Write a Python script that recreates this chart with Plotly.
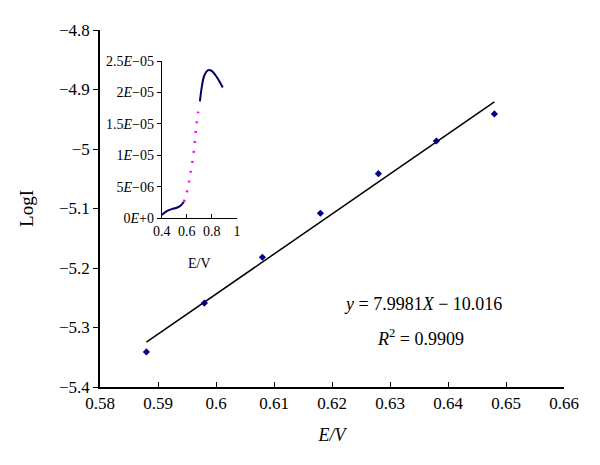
import numpy as np
import plotly.graph_objects as go

# Main data
E_main = [0.588, 0.598, 0.608, 0.618, 0.628, 0.638, 0.648]
logI = [-5.341, -5.259, -5.182, -5.108, -5.0415, -4.9866, -4.941]

# Inset data
E_low = [0.40, 0.44, 0.48, 0.52, 0.555, 0.576]
I_low = [0.5e-6, 1.1e-6, 1.44e-6, 1.65e-6, 2.07e-6, 2.6e-6]
E_mid = [0.576, 0.589, 0.603, 0.616, 0.629, 0.643, 0.656, 0.667, 0.677, 0.691]
I_mid = [2.6e-6, 3.24e-6, 4.31e-6, 5.53e-6, 7.13e-6, 8.72e-6, 10.57e-6, 12.81e-6, 14.94e-6, 16.95e-6]
E_high = [0.705, 0.72, 0.74, 0.767, 0.793, 0.82, 0.86, 0.887]
I_high = [18.6e-6, 20.9e-6, 22.7e-6, 23.5e-6, 23.5e-6, 23.0e-6, 21.8e-6, 20.8e-6]

main_xticks = [0.58, 0.59, 0.60, 0.61, 0.62, 0.63, 0.64, 0.65, 0.66]
main_xlabels = ["0.58", "0.59", "0.6", "0.61", "0.62", "0.63", "0.64", "0.65", "0.66"]
main_yticks = [-5.4, -5.3, -5.2, -5.1, -5.0, -4.9, -4.8]
main_ylabels = ["\u22125.4", "\u22125.3", "\u22125.2", "\u22125.1", "\u22125", "\u22124.9", "\u22124.8"]
inset_xticks = [0.4, 0.6, 0.8, 1.0]
inset_xlabels = ["0.4", "0.6", "0.8", "1"]
inset_yticks = [0, 5e-6, 1e-5, 1.5e-5, 2e-5, 2.5e-5]
inset_ylabels = ["0<i>E</i>+0", "5<i>E</i>\u221206", "1<i>E</i>\u221205",
                 "1.5<i>E</i>\u221205", "2<i>E</i>\u221205", "2.5<i>E</i>\u221205"]

FONT = "Liberation Serif"

slope, intercept = np.polyfit(E_main, logI, 1)
fit_x = [E_main[0], E_main[-1]]
fit_y = [slope * x + intercept for x in fit_x]

fig = go.Figure()
fig.add_trace(go.Scatter(x=fit_x, y=fit_y, mode="lines",
                         line=dict(color="black", width=1.5), showlegend=False))
fig.add_trace(go.Scatter(x=E_main, y=logI, mode="markers",
                         marker=dict(symbol="diamond", size=5.5, color="#000080"),
                         showlegend=False))

fig.add_trace(go.Scatter(x=E_low, y=I_low, mode="lines", xaxis="x2", yaxis="y2",
                         line=dict(color="#000066", width=2, shape="spline"), showlegend=False))
fig.add_trace(go.Scatter(x=E_mid, y=I_mid, mode="lines", xaxis="x2", yaxis="y2",
                         line=dict(color="#FF00FF", width=2.5, dash="2px,8px", shape="spline"),
                         showlegend=False))
fig.add_trace(go.Scatter(x=E_high, y=I_high, mode="lines", xaxis="x2", yaxis="y2",
                         line=dict(color="#000066", width=2, shape="spline"), showlegend=False))

fig.update_layout(
    width=600, height=465,
    margin=dict(l=92, r=44, t=22, b=86),
    paper_bgcolor="white", plot_bgcolor="white",
    font=dict(family=FONT, color="black", size=17),
    xaxis=dict(range=[0.58, 0.66], tickvals=main_xticks, ticktext=main_xlabels,
               showgrid=False, zeroline=False, showline=True, linecolor="black", linewidth=1.5,
               ticks="inside", ticklen=5, tickcolor="black",
               title=dict(text="<i>E/V</i>", font=dict(family=FONT, size=18), standoff=16),
               tickfont=dict(family=FONT, size=17)),
    yaxis=dict(range=[-5.4, -4.8], tickvals=main_yticks, ticktext=main_ylabels,
               showgrid=False, zeroline=False, showline=True, linecolor="black", linewidth=1.5,
               ticks="outside", ticklen=5, tickcolor="black",
               title=dict(text="LogI", font=dict(family=FONT, size=19), standoff=20),
               tickfont=dict(family=FONT, size=17)),
    xaxis2=dict(domain=[0.133, 0.295], anchor="y2", range=[0.4, 1.0],
                tickvals=inset_xticks, ticktext=inset_xlabels,
                showgrid=False, zeroline=False, showline=True, linecolor="black", linewidth=1,
                ticks="inside", ticklen=4, tickcolor="black",
                tickfont=dict(family=FONT, size=14),
                title=dict(text="E/V", font=dict(family=FONT, size=14), standoff=20)),
    yaxis2=dict(domain=[0.473, 0.913], anchor="x2", range=[0, 2.5e-5],
                tickvals=inset_yticks, ticktext=inset_ylabels,
                showgrid=False, zeroline=False, showline=True, linecolor="black", linewidth=1,
                ticks="outside", ticklen=4, tickcolor="black",
                tickfont=dict(family=FONT, size=14)),
    annotations=[
        dict(x=0.6357, y=-5.2605, xref="x", yref="y", showarrow=False,
             text="<i>y</i> = 7.9981<i>X</i> \u2212 10.016", font=dict(family=FONT, size=18)),
        dict(x=0.6352, y=-5.316, xref="x", yref="y", showarrow=False,
             text="<i>R</i><sup>2</sup> = 0.9909", font=dict(family=FONT, size=18)),
    ],
)

fig.write_html("out.html")
